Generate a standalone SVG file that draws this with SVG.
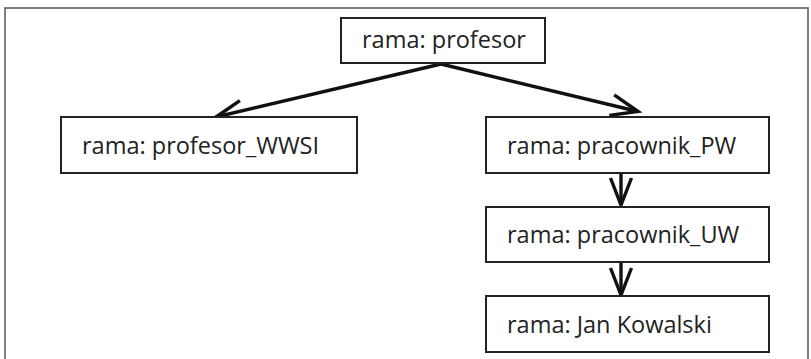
<svg xmlns="http://www.w3.org/2000/svg" width="811" height="359" viewBox="0 0 811 359">
<defs>
<style>
.frame{fill:#fff;stroke:#555;stroke-width:1.5}
.box{fill:#fff;stroke:#222;stroke-width:2}
.lbl{font-family:"Open Sans","Noto Sans",sans-serif;font-size:23.5px;fill:#222}
.edge{stroke:#111;stroke-width:3.4;fill:none;marker-end:url(#arr)}
</style>
<marker id="arr" markerUnits="userSpaceOnUse" viewBox="-32 -14 34 28" markerWidth="34" markerHeight="28" refX="0" refY="0" orient="auto" overflow="visible">
<path d="M-27,-10.5 L0,0 L-27,10.5" fill="none" stroke="#111" stroke-width="3.4" stroke-linejoin="miter"/>
</marker>
</defs>
<rect class="frame" x="5" y="8" width="803" height="360"/>
<g id="connectors">
<line class="edge" x1="441" y1="64" x2="216" y2="117"/>
<line class="edge" x1="441" y1="64" x2="638" y2="111.5"/>
<line class="edge" x1="621" y1="173" x2="621" y2="205"/>
<line class="edge" x1="621" y1="262" x2="621" y2="295"/>
</g>
<g id="n_profesor"><rect class="box" x="341" y="18" width="204" height="45"/><text class="lbl" x="362" y="48">rama: profesor</text></g>
<g id="n_profesor_wwsi"><rect class="box" x="61" y="117" width="296" height="56"/><text class="lbl" x="82" y="154">rama: profesor_WWSI</text></g>
<g id="n_pracownik_pw"><rect class="box" x="486" y="117" width="283" height="56"/><text class="lbl" x="507" y="154">rama: pracownik_PW</text></g>
<g id="n_pracownik_uw"><rect class="box" x="486" y="207" width="283" height="55"/><text class="lbl" x="507" y="243">rama: pracownik_UW</text></g>
<g id="n_jan_kowalski"><rect class="box" x="486" y="296" width="283" height="56"/><text class="lbl" x="507" y="333">rama: Jan Kowalski</text></g>
</svg>
